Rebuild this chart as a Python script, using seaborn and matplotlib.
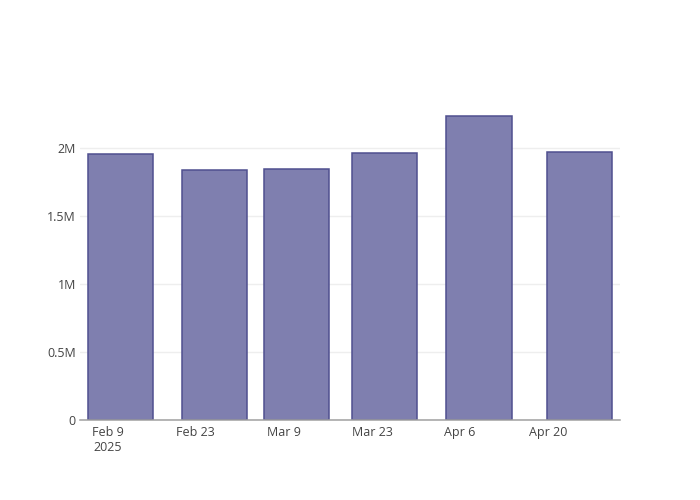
import matplotlib
matplotlib.use("Agg")
import matplotlib.pyplot as plt
import matplotlib.dates as mdates
import matplotlib.ticker as mticker
import seaborn as sns
import pandas as pd
import numpy as np

# Data
dates = ["2025-02-11", "2025-02-26", "2025-03-11", "2025-03-25", "2025-04-09", "2025-04-25"]
values = [1956000, 1835000, 1848000, 1963000, 2238000, 1973000]
x_tick_dates = ["2025-02-09", "2025-02-23", "2025-03-09", "2025-03-23", "2025-04-06", "2025-04-20"]
x_tick_labels = ["Feb 9\n2025", "Feb 23", "Mar 9", "Mar 23", "Apr 6", "Apr 20"]
y_ticks = [0, 500000, 1000000, 1500000, 2000000]
y_tick_labels = ["0", "0.5M", "1M", "1.5M", "2M"]

sns.set_theme(style="white")
plt.rcParams["font.family"] = ["Open Sans", "DejaVu Sans"]

xnum = mdates.date2num(pd.to_datetime(dates))
df = pd.DataFrame({"x": xnum, "y": values})

fig = plt.figure(figsize=(7, 5), dpi=100)
ax = fig.add_axes([80 / 700, 80 / 500, 540 / 700, 320 / 500])

sns.barplot(data=df, x="x", y="y", native_scale=True, width=0.8,
            color="#7f7faf", saturation=1, edgecolor="#50508f",
            linewidth=1.1, ax=ax, zorder=3)

span = 0.8 * np.min(np.diff(xnum)) / 2 + 1.2
ax.set_xlim(xnum[0] - span, xnum[-1] + span)
ax.set_ylim(0, 2353000)

ax.set_xticks(mdates.date2num(pd.to_datetime(x_tick_dates)))
ax.set_xticklabels(x_tick_labels)
ax.set_yticks(y_ticks)
ax.set_yticklabels(y_tick_labels)

ax.tick_params(axis="both", length=0, labelsize=9, colors="#444444")
ax.tick_params(axis="x", pad=4)
ax.tick_params(axis="y", pad=3)
ax.set_xlabel("")
ax.set_ylabel("")

ax.grid(axis="y", color="#eeeeee", linewidth=1, zorder=0)
ax.grid(axis="x", visible=False)
for s in ["top", "right", "left"]:
    ax.spines[s].set_visible(False)
ax.spines["bottom"].set_color("#a0a0a0")
ax.spines["bottom"].set_linewidth(1.1)
ax.spines["bottom"].set_zorder(4)

fig.savefig("out.png", dpi=100)
